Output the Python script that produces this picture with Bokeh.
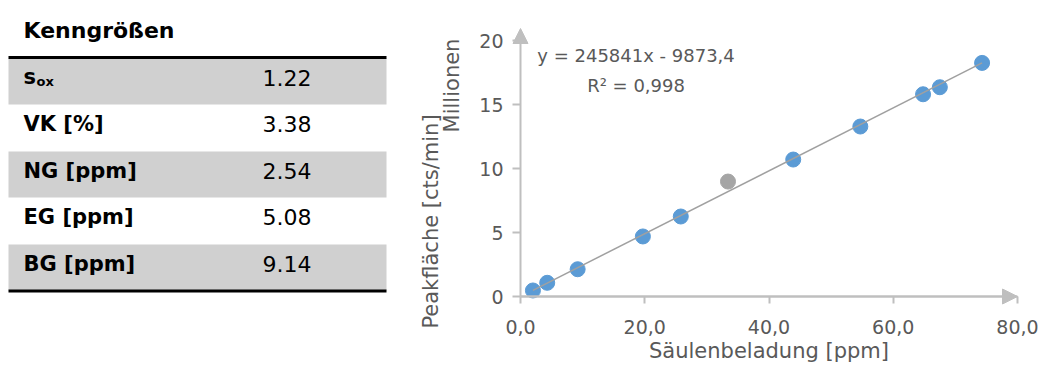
import math
from bokeh.plotting import figure
from bokeh.models import (Range1d, Label, Arrow, NormalHead,
                          CustomJSTickFormatter, FixedTicker)
from bokeh.core.properties import value
from bokeh.embed import file_html
from bokeh.resources import INLINE

# ---------------- data ----------------
table_title = "Kenngrößen"
param_names = ["s", "VK [%]", "NG [ppm]", "EG [ppm]", "BG [ppm]"]
param_subs = ["ox", "", "", "", ""]
param_values = ["1.22", "3.38", "2.54", "5.08", "9.14"]

loading_ppm = [2.0, 4.3, 9.2, 19.7, 25.8, 43.9, 54.7, 64.8, 67.5, 74.3]
peak_area_mio = [0.47, 1.07, 2.13, 4.69, 6.25, 10.7, 13.28, 15.8, 16.35, 18.25]
outlier_ppm = [33.4]
outlier_area_mio = [8.98]

trend_slope = 245841.0
trend_intercept = -9873.4
eq_text = "y = 245841x - 9873,4"
r2_text = "R² = 0,998"

x_ticks = [0, 20, 40, 60, 80]
y_ticks = [0, 5, 10, 15, 20]
x_title = "Säulenbeladung [ppm]"
y_title = "Peakfläche [cts/min]"
y_units = "Millionen"

# ---------------- styles / layout ----------------
FONT = "DejaVu Sans"
TXT = "#595959"
AXC = "#bfbfbf"
BLUE = "#5b9bd5"
GREY_PT = "#a5a5a5"
TREND = "#a0a0a0"
BAND = "#d0d0d0"

W, H = 1039, 367
x0_px, px_x = 520, 497 / 80.0      # x = 0 position and px per ppm
y0_px, px_y = 296, 12.8            # y = 0 position and px per million

p = figure(width=W, height=H,
           x_range=Range1d(-x0_px / px_x, (W - x0_px) / px_x),
           y_range=Range1d(-(H - y0_px) / px_y, y0_px / px_y),
           output_backend="svg", toolbar_location=None, min_border=0)
p.extra_x_ranges = {"px": Range1d(0, W)}
p.extra_y_ranges = {"px": Range1d(H, 0)}
p.grid.visible = False
p.outline_line_color = None
p.background_fill_color = "white"
p.border_fill_color = "white"

# ---------------- table (page-pixel coordinates) ----------------
tab_left, tab_right = 8, 386
line_top = 57
row_h = 46.5
row0 = 58
n = len(param_names)
row_tops = [row0 + i * row_h for i in range(n)]
band_idx = [i for i in range(n) if i % 2 == 0]
PX = dict(x_range_name="px", y_range_name="px")
p.quad(left=tab_left, right=tab_right,
       top=[row_tops[i] for i in band_idx],
       bottom=[row_tops[i] + row_h - 0.5 for i in band_idx],
       fill_color=BAND, line_color=None, **PX)
bottom_line = row0 + n * row_h
p.segment(x0=[tab_left, tab_left], x1=[tab_right, tab_right],
          y0=[line_top, bottom_line], y1=[line_top, bottom_line],
          line_color="black", line_width=3, **PX)

p.text(x=[23], y=[30], text=[table_title], text_font=value(FONT),
       text_font_style="bold", text_font_size="22px", text_color="black",
       text_baseline="middle", **PX)
centers = [rt + row_h / 2 - 4 for rt in row_tops]
main_mid = [c if not param_subs[i] else c - 1 for i, c in enumerate(centers)]
p.text(x=[23] * n, y=main_mid, text=param_names, text_font=value(FONT),
       text_font_style="bold", text_font_size="21px", text_color="black",
       text_baseline="middle", **PX)
sub_i = [i for i in range(n) if param_subs[i]]
p.text(x=[36] * len(sub_i), y=[centers[i] + 4 for i in sub_i],
       text=[param_subs[i] for i in sub_i], text_font=value(FONT),
       text_font_style="bold", text_font_size="13px", text_color="black",
       text_baseline="middle", **PX)
p.text(x=[262] * n, y=centers, text=param_values,
       text_font=value(FONT), text_font_size="22px", text_color="black",
       text_baseline="middle", **PX)

# ---------------- axes ----------------
xax, yax = p.xaxis[0], p.yaxis[0]
for ax in (xax, yax):
    ax.fixed_location = 0
    ax.axis_line_color = AXC
    ax.axis_line_width = 2
    ax.major_tick_line_color = AXC
    ax.major_tick_line_width = 2
    ax.major_tick_in = 0
    ax.minor_tick_line_color = None
    ax.major_label_text_font = FONT
    ax.major_label_text_font_size = "19px"
    ax.major_label_text_color = TXT
xax.ticker = FixedTicker(ticks=x_ticks)
yax.ticker = FixedTicker(ticks=y_ticks)
xax.bounds = (x_ticks[0], x_ticks[-1])
yax.bounds = (y_ticks[0], y_ticks[-1])
yax.axis_line_color = None
xax.formatter = CustomJSTickFormatter(code="return tick.toFixed(1).replace('.', ',');")
yax.formatter = CustomJSTickFormatter(code="return tick.toFixed(0);")
xax.major_tick_out = 7
yax.major_tick_out = 8
xax.major_label_standoff = 16
yax.major_label_standoff = 9

# axis arrow heads
y_arrow_tip = y_ticks[-1] + 12 / px_y
p.add_layout(Arrow(end=NormalHead(size=15, fill_color=AXC, line_color=AXC),
                   x_start=0, y_start=0, x_end=0, y_end=y_arrow_tip,
                   line_color=AXC, line_width=2))
p.add_layout(Arrow(end=NormalHead(size=15, fill_color=AXC, line_color=AXC),
                   x_start=0, y_start=0, x_end=x_ticks[-1], y_end=0,
                   line_color=AXC, line_width=2))

# ---------------- data marks ----------------
p.scatter(loading_ppm, peak_area_mio, size=15, fill_color=BLUE, line_color=BLUE)
p.scatter(outlier_ppm, outlier_area_mio, size=15, fill_color=GREY_PT, line_color=GREY_PT)

tx = [min(loading_ppm), max(loading_ppm)]
ty = [(trend_slope * x + trend_intercept) / 1e6 for x in tx]
p.line(tx, ty, line_color=TREND, line_width=1.5)

# ---------------- texts ----------------
eq_x = 18.6
p.add_layout(Label(x=eq_x, y=(y0_px - 54.5) / px_y, text=eq_text, text_align="center",
                   text_baseline="middle", text_font=FONT,
                   text_font_size="18px", text_color=TXT))
p.add_layout(Label(x=eq_x, y=(y0_px - 84.5) / px_y, text=r2_text, text_align="center",
                   text_baseline="middle", text_font=FONT,
                   text_font_size="18px", text_color=TXT))

p.add_layout(Label(x=(x_ticks[0] + x_ticks[-1]) / 2, y=(y0_px - 350) / px_y, text=x_title,
                   text_align="center", text_baseline="middle", text_font=FONT,
                   text_font_size="21px", text_color=TXT))
p.add_layout(Label(x=(430 - x0_px) / px_x, y=(y0_px - 221) / px_y, text=y_title,
                   angle=math.pi / 2, text_align="center", text_baseline="middle",
                   text_font=FONT, text_font_size="21px", text_color=TXT))
p.add_layout(Label(x=(451 - x0_px) / px_x, y=(y0_px - 85) / px_y, text=y_units,
                   angle=math.pi / 2, text_align="center", text_baseline="middle",
                   text_font=FONT, text_font_size="21px", text_color=TXT))

open("out.html", "w").write(file_html(p, INLINE))
